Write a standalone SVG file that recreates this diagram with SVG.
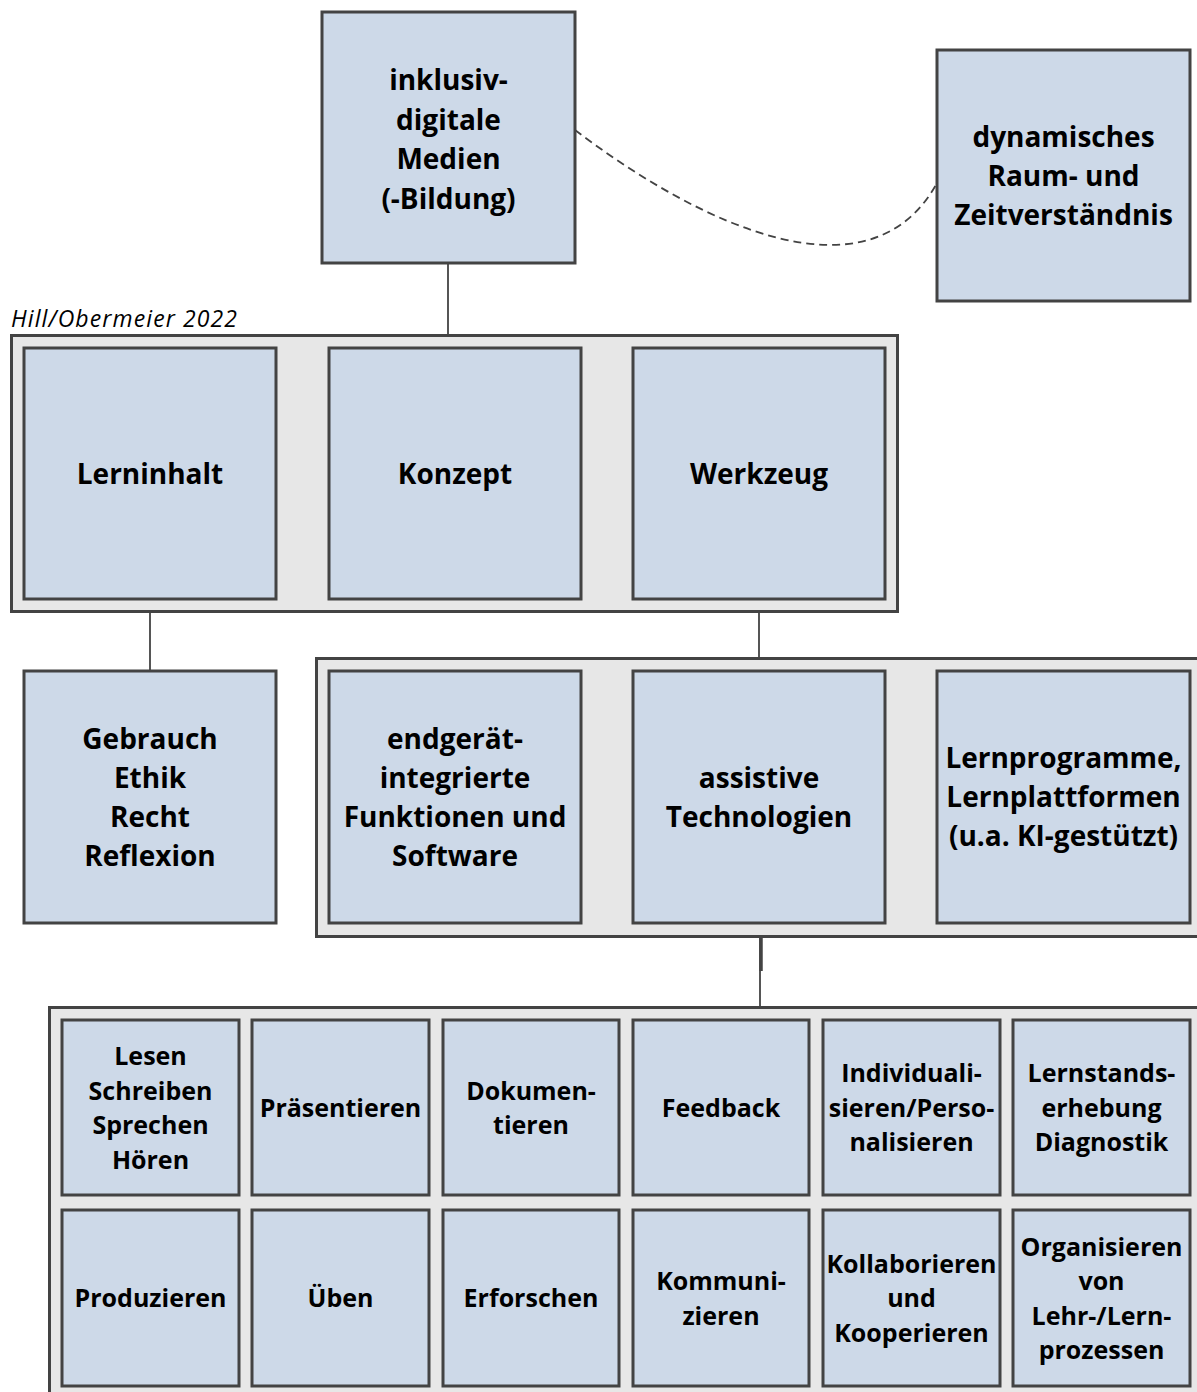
<svg xmlns="http://www.w3.org/2000/svg" width="1197" height="1392" viewBox="0 0 1197 1392">
<style>
.bg{fill:#ffffff}
.cont{fill:#e7e7e7;stroke:#434343;stroke-width:3}
.node{fill:#cdd9e8;stroke:#434343;stroke-width:3}
.t{font-family:"Open Sans","Liberation Sans",sans-serif;font-weight:bold;font-size:28px;fill:#000;text-anchor:middle}
.g{font-family:"Open Sans","Liberation Sans",sans-serif;font-weight:bold;font-size:25px;fill:#000;text-anchor:middle}
.cap{font-family:"Open Sans","Liberation Sans",sans-serif;font-style:italic;font-size:23px;fill:#000}
.ln{fill:none;stroke:#434343;stroke-width:1.8}
.dash{fill:none;stroke:#434343;stroke-width:1.8;stroke-dasharray:8 5}
</style>
<rect class="bg" x="0" y="0" width="1197" height="1392"/>

<g id="connectors">
  <line class="ln" x1="448" y1="263" x2="448" y2="335"/>
  <path class="dash" d="M575,130 C700,225 870,305 937,183"/>
  <line class="ln" x1="150" y1="611" x2="150" y2="671"/>
  <line class="ln" x1="759" y1="611" x2="759" y2="658"/>
  <line class="ln" x1="760" y1="936" x2="760" y2="1007"/>
  <line x1="761" y1="936" x2="761" y2="971" stroke="#434343" stroke-width="3.5"/>
</g>

<text class="cap" x="11" y="327" textLength="226" lengthAdjust="spacing">Hill/Obermeier 2022</text>

<g id="container-1">
  <rect class="cont" x="11.5" y="335.5" width="886" height="276"/>
</g>
<g id="container-2">
  <rect class="cont" x="316.5" y="658.5" width="890" height="278"/>
</g>
<g id="container-3">
  <rect class="cont" x="49.5" y="1007.5" width="1160" height="400"/>
</g>

<g id="node-medien">
  <rect class="node" x="322" y="12" width="253" height="251"/>
  <text class="t" x="448.5" y="90">inklusiv-</text>
  <text class="t" x="448.5" y="129.5">digitale</text>
  <text class="t" x="448.5" y="169">Medien</text>
  <text class="t" x="448.5" y="208.5">(-Bildung)</text>
</g>
<g id="node-raum">
  <rect class="node" x="937" y="50" width="253" height="251"/>
  <text class="t" x="1063.5" y="146.5">dynamisches</text>
  <text class="t" x="1063.5" y="185.5">Raum- und</text>
  <text class="t" x="1063.5" y="224.5">Zeitverständnis</text>
</g>

<g id="node-lerninhalt">
  <rect class="node" x="24" y="348" width="252" height="251"/>
  <text class="t" x="150" y="484">Lerninhalt</text>
</g>
<g id="node-konzept">
  <rect class="node" x="329" y="348" width="252" height="251"/>
  <text class="t" x="455" y="484">Konzept</text>
</g>
<g id="node-werkzeug">
  <rect class="node" x="633" y="348" width="252" height="251"/>
  <text class="t" x="759" y="484">Werkzeug</text>
</g>

<g id="node-gebrauch">
  <rect class="node" x="24" y="671" width="252" height="252"/>
  <text class="t" x="150" y="748.5">Gebrauch</text>
  <text class="t" x="150" y="787.5">Ethik</text>
  <text class="t" x="150" y="826.5">Recht</text>
  <text class="t" x="150" y="865.5">Reflexion</text>
</g>
<g id="node-endgeraet">
  <rect class="node" x="329" y="671" width="252" height="252"/>
  <text class="t" x="455" y="748.5">endgerät-</text>
  <text class="t" x="455" y="787.5">integrierte</text>
  <text class="t" x="455" y="826.5">Funktionen und</text>
  <text class="t" x="455" y="865.5">Software</text>
</g>
<g id="node-assistive">
  <rect class="node" x="633" y="671" width="252" height="252"/>
  <text class="t" x="759" y="787.5">assistive</text>
  <text class="t" x="759" y="826.5">Technologien</text>
</g>
<g id="node-lernprogramme">
  <rect class="node" x="937" y="671" width="253" height="252"/>
  <text class="t" x="1063.5" y="768">Lernprogramme,</text>
  <text class="t" x="1063.5" y="807">Lernplattformen</text>
  <text class="t" x="1063.5" y="846">(u.a. KI-gestützt)</text>
</g>

<g id="node-lesen">
  <rect class="node" x="62" y="1020" width="177" height="175"/>
  <text class="g" x="150.5" y="1065">Lesen</text>
  <text class="g" x="150.5" y="1099.5">Schreiben</text>
  <text class="g" x="150.5" y="1134">Sprechen</text>
  <text class="g" x="150.5" y="1168.5">Hören</text>
</g>
<g id="node-praesentieren">
  <rect class="node" x="252" y="1020" width="177" height="175"/>
  <text class="g" x="340.5" y="1116.5">Präsentieren</text>
</g>
<g id="node-dokumentieren">
  <rect class="node" x="443" y="1020" width="176" height="175"/>
  <text class="g" x="531" y="1099.5">Dokumen-</text>
  <text class="g" x="531" y="1134">tieren</text>
</g>
<g id="node-feedback">
  <rect class="node" x="633" y="1020" width="176" height="175"/>
  <text class="g" x="721" y="1116.5">Feedback</text>
</g>
<g id="node-individualisieren">
  <rect class="node" x="823" y="1020" width="177" height="175"/>
  <text class="g" x="911.5" y="1082">Individuali-</text>
  <text class="g" x="911.5" y="1116.5">sieren/Perso-</text>
  <text class="g" x="911.5" y="1151">nalisieren</text>
</g>
<g id="node-lernstand">
  <rect class="node" x="1013" y="1020" width="177" height="175"/>
  <text class="g" x="1101.5" y="1082">Lernstands-</text>
  <text class="g" x="1101.5" y="1116.5">erhebung</text>
  <text class="g" x="1101.5" y="1151">Diagnostik</text>
</g>

<g id="node-produzieren">
  <rect class="node" x="62" y="1210" width="177" height="176"/>
  <text class="g" x="150.5" y="1307">Produzieren</text>
</g>
<g id="node-ueben">
  <rect class="node" x="252" y="1210" width="177" height="176"/>
  <text class="g" x="340.5" y="1307">Üben</text>
</g>
<g id="node-erforschen">
  <rect class="node" x="443" y="1210" width="176" height="176"/>
  <text class="g" x="531" y="1307">Erforschen</text>
</g>
<g id="node-kommunizieren">
  <rect class="node" x="633" y="1210" width="176" height="176"/>
  <text class="g" x="721" y="1290">Kommuni-</text>
  <text class="g" x="721" y="1324.5">zieren</text>
</g>
<g id="node-kollaborieren">
  <rect class="node" x="823" y="1210" width="177" height="176"/>
  <text class="g" x="911.5" y="1272.5">Kollaborieren</text>
  <text class="g" x="911.5" y="1307">und</text>
  <text class="g" x="911.5" y="1341.5">Kooperieren</text>
</g>
<g id="node-organisieren">
  <rect class="node" x="1013" y="1210" width="177" height="176"/>
  <text class="g" x="1101.5" y="1255.5">Organisieren</text>
  <text class="g" x="1101.5" y="1290">von</text>
  <text class="g" x="1101.5" y="1324.5">Lehr-/Lern-</text>
  <text class="g" x="1101.5" y="1359">prozessen</text>
</g>
</svg>
